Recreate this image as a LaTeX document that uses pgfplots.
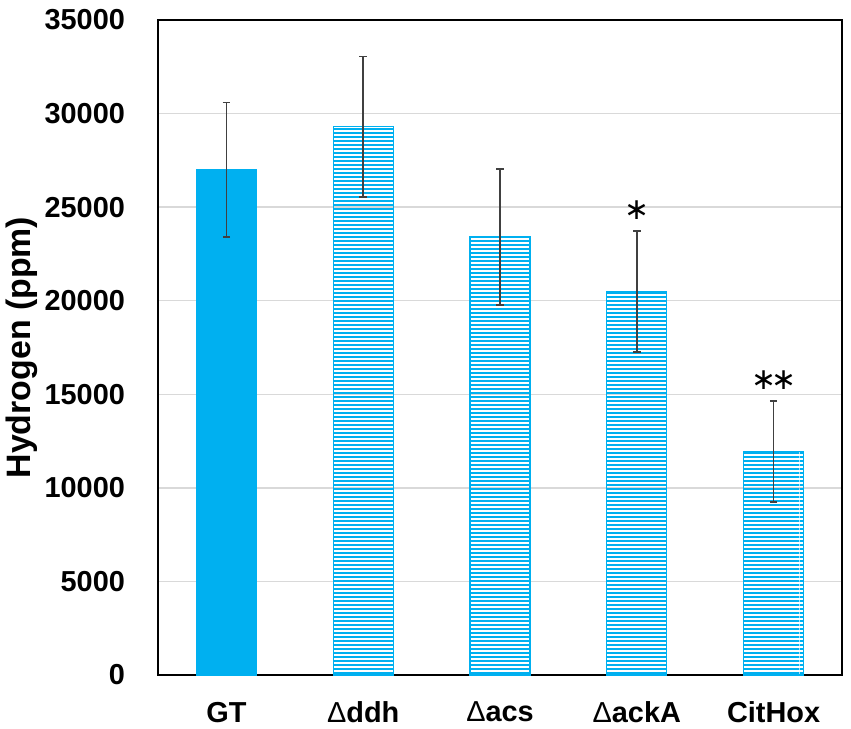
\documentclass[border=0pt]{standalone}
\usepackage{fontspec}
\setmainfont{Liberation Sans}
\newfontfamily\djv{DejaVu Sans}
\usepackage{pgfplots}
\usepackage{pgfplotstable}
\pgfplotsset{compat=1.18}
\usetikzlibrary{patterns,calc}
\definecolor{barcyan}{HTML}{00B0F0}
\definecolor{errgray}{HTML}{404040}
\definecolor{gridgray}{HTML}{D9D9D9}
\pgfdeclarepatternformonly{hfine}{\pgfpoint{0bp}{0bp}}{\pgfpoint{100bp}{2.1bp}}{\pgfpoint{100bp}{2.1bp}}{%
  \pgfpathrectangle{\pgfpoint{0bp}{0bp}}{\pgfpoint{100bp}{1.05bp}}\pgfusepath{fill}}
\pgfplotstableread{
x y err
0 27000 3600
}\gtdata
\pgfplotstableread{
x y err
1 29300 3750
2 23410 3630
3 20490 3240
4 11950 2700
}\mutdata
\begin{document}
\begin{tikzpicture}
\begin{axis}[
  scale only axis, width=342bp, height=327.5bp,
  xmin=-0.5, xmax=4.5, ymin=0, ymax=35000,
  xtick={0,1,2,3,4},
  xticklabels={GT,{{\mdseries Δ}ddh},{{\mdseries Δ}acs},{{\mdseries Δ}ackA},CitHox},
  ytick={0,5000,10000,15000,20000,25000,30000,35000},
  scaled y ticks=false,
  ymajorgrids, grid style={gridgray, line width=0.75bp},
  major tick length=0pt,
  axis line style={black, line width=0.8bp},
  /pgf/number format/1000 sep={},
  /pgf/number format/assume math mode=true,
  yticklabel style={font=\fontsize{14.5}{17}\selectfont\bfseries, xshift=-13bp},
  xticklabel style={font=\fontsize{14.5}{17}\selectfont\bfseries, yshift=-10bp},
  ylabel={Hydrogen (ppm)},
  ylabel style={font=\fontsize{17}{20}\selectfont\bfseries, at={(axis description cs:-0.1988,0.5)}, anchor=center},
  error bars/y dir=both, error bars/y explicit,
  error bars/error bar style={errgray, line width=0.75bp},
  error bars/error mark options={rotate=90, errgray, mark size=1.9bp, line width=0.75bp},
]
\addplot[ybar, bar width=30bp, bar shift=0pt, fill=barcyan, draw=barcyan]
  table[x=x, y=y, y error=err]{\gtdata};
\addplot[ybar, bar width=30bp, bar shift=0pt, draw=barcyan, line width=0.6bp,
  pattern=hfine, pattern color=barcyan]
  table[x=x, y=y, y error=err]{\mutdata};
\node[font=\djv\fontsize{15}{18}\selectfont, inner sep=0pt, anchor=center] at (axis cs:3,24850) {∗};
\node[font=\djv\fontsize{15}{18}\selectfont, inner sep=0pt, anchor=center] at (axis cs:4,15770) {∗\kern-2.5bp∗};
\end{axis}
\pgfresetboundingbox
\useasboundingbox ($(current axis.south west)+(-79bp,-26.5bp)$) rectangle ($(current axis.north east)+(4.5bp,10bp)$);
\end{tikzpicture}
\end{document}
